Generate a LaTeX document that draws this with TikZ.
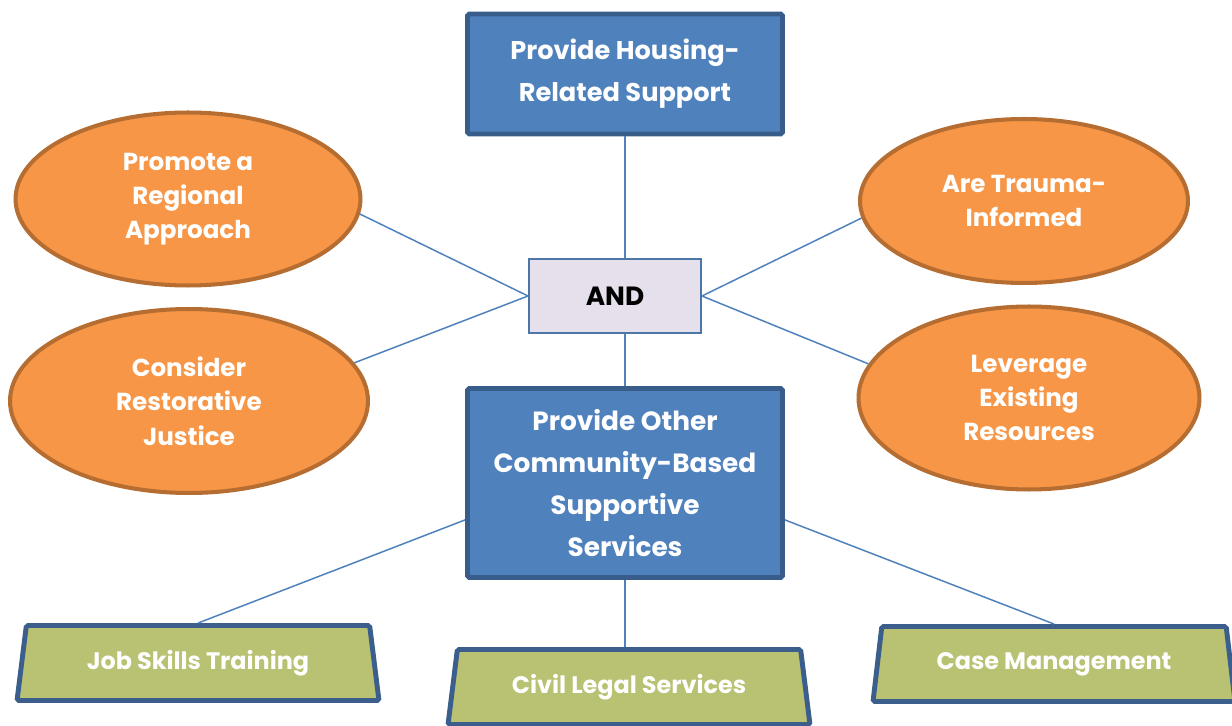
\documentclass[tikz,border=0pt]{standalone}
\usepackage{fontspec}
\setmainfont{Poppins}
\usetikzlibrary{shapes.geometric}

\definecolor{boxblue}{HTML}{4F81BD}
\definecolor{boxedge}{HTML}{385D8A}
\definecolor{andfill}{HTML}{E6E0EC}
\definecolor{andedge}{HTML}{4A76A8}
\definecolor{ovalfill}{HTML}{F79646}
\definecolor{ovaledge}{HTML}{B66D31}
\definecolor{trapfill}{HTML}{B9C173}
\definecolor{trapedge}{HTML}{3B5E8C}
\definecolor{linkblue}{HTML}{4F81BD}

\begin{document}
\begin{tikzpicture}[x=0.02cm, y=-0.02cm,
        bluebox/.style={draw=boxedge, fill=boxblue, line width=2.8pt, rounded corners=1pt, text=white, align=center, minimum width=6.3cm, font=\bfseries\fontsize{15}{24}\selectfont},
        andbox/.style={draw=andedge, fill=andfill, line width=1.1pt, minimum width=3.44cm, minimum height=1.48cm, font=\bfseries\fontsize{15}{18}\selectfont},
        oval/.style={ellipse, draw=ovaledge, fill=ovalfill, line width=2.3pt, text=white, align=center, inner sep=0pt, font=\bfseries\fontsize{14}{19.5}\selectfont},
        trap/.style={trapezium, trapezium left angle=76, trapezium right angle=76, trapezium stretches body, draw=trapedge, fill=trapfill, line width=2.8pt, rounded corners=1pt, text=white, minimum width=7.24cm, minimum height=1.5cm, font=\bfseries\fontsize{13.6}{16}\selectfont},
        link/.style={draw=linkblue, line width=0.85pt}]

                \useasboundingbox (0,0) rectangle (1232,726);
                \clip (0,0) rectangle (1232,726);

                \node[bluebox, minimum height=2.4cm, font=\bfseries\fontsize{14.6}{24}\selectfont] (housing) at (625,74) {Provide Housing-\\Related Support};
                \node[andbox] (and) at (615,296) {AND};
                \node[bluebox, minimum height=3.78cm] (services) at (625,483) {Provide Other\\Community-Based\\Supportive\\Services};

                \node[oval, minimum width=6.9cm, minimum height=3.46cm] (regional) at (188,199) {Promote a\\Regional\\Approach};
                \node[oval, minimum width=7.16cm, minimum height=3.68cm] (restorative) at (189,401) {Consider\\Restorative\\Justice};
                \node[oval, minimum width=6.56cm, minimum height=3.28cm] (trauma) at (1024,201) {Are Trauma-\\Informed};
                \node[oval, minimum width=6.82cm, minimum height=3.66cm] (leverage) at (1029,398) {Leverage\\Existing\\Resources};

                \node[trap] (jobs) at (198,663) {Job Skills Training};
                \node[trap] (legal) at (629,687) {Civil Legal Services};
                \node[trap] (casemgmt) at (1054,664) {Case Management};

                % links to the AND box
                \draw[link] (housing.south) -- (housing.south |- and.north);
                \draw[link] (services.north) -- (services.north |- and.south);
                \draw[link] (regional.-5) -- (and.west);
                \draw[link] (restorative.13) -- (and.west);
                \draw[link] (trauma.186) -- (and.east);
                \draw[link] (leverage.168) -- (and.east);

                % services to the three trapezia
                \draw[link] (services.193) -- (jobs.north);
                \draw[link] (services.south) -- (services.south |- legal.north);
                \draw[link] (services.-13) -- (casemgmt.north);

\end{tikzpicture}
\end{document}
